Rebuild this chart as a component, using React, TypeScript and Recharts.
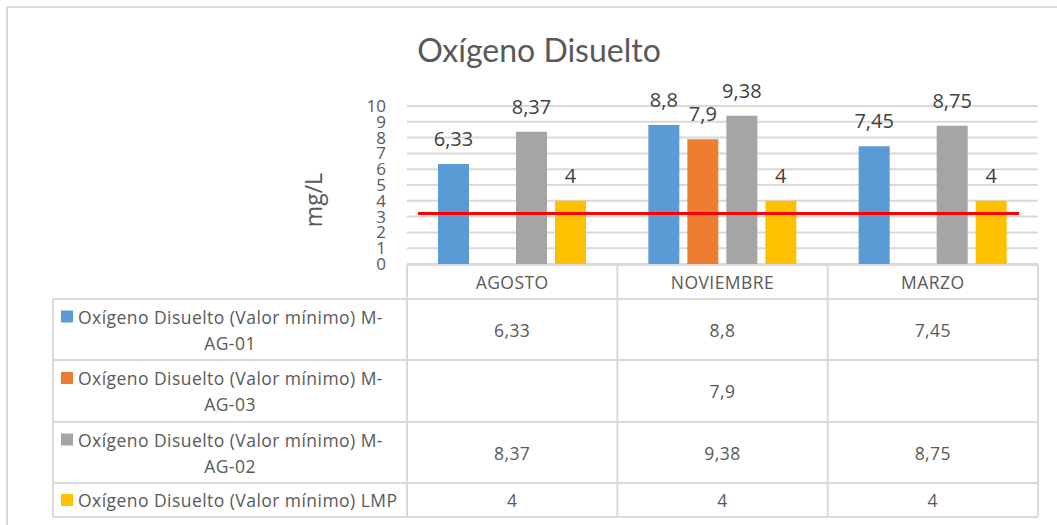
import { BarChart, Bar, XAxis, YAxis, CartesianGrid, LabelList, ReferenceLine } from "recharts";

const categories = ["AGOSTO", "NOVIEMBRE", "MARZO"];
const seriesNames = [
  "Oxígeno Disuelto (Valor mínimo) M-AG-01",
  "Oxígeno Disuelto (Valor mínimo) M-AG-03",
  "Oxígeno Disuelto (Valor mínimo) M-AG-02",
  "Oxígeno Disuelto (Valor mínimo) LMP",
];
const mag01 = [6.33, 8.8, 7.45];
const mag03 = [null, 7.9, null];
const mag02 = [8.37, 9.38, 8.75];
const lmp = [4, 4, 4];
const yTicks = [0, 1, 2, 3, 4, 5, 6, 7, 8, 9, 10];
const limitLine = 3.2;

const seriesValues = [mag01, mag03, mag02, lmp];
const seriesKeys = ["mag01", "mag03", "mag02", "lmp"];
const colors = ["#5B9BD5", "#ED7D31", "#A5A5A5", "#FFC000"];

const data = categories.map((c, i) => ({
  cat: c,
  mag01: mag01[i],
  mag03: mag03[i],
  mag02: mag02[i],
  lmp: lmp[i],
}));

const FONT = "'Open Sans', sans-serif";
const TITLE_FONT = "Lato, 'Open Sans', sans-serif";
const TEXT = "#595959";
const LINE = "#d9d9d9";

const fmt = (v: any) => (v === null || v === undefined ? "" : String(v).replace(".", ","));

// table layout
const colX = [407, 617.3, 827.7, 1038];
const leftX = 53;
const rowY = [265, 299, 360, 422, 483, 517];
const cellText = { fontSize: 17.5, fill: TEXT, letterSpacing: 0.45 };

function splitName(name: string) {
  const i = name.indexOf(") M-");
  if (i < 0) return [name];
  return [name.slice(0, i + 4), name.slice(i + 4)];
}

function DataTable() {
  return (
    <svg
      width={1057}
      height={525}
      style={{ position: "absolute", left: 0, top: 0, pointerEvents: "none" }}
      fontFamily={FONT}
    >
      {/* outer frame */}
      <line x1={7} y1={7} x2={1057} y2={7} stroke={LINE} strokeWidth={2} />
      <line x1={7} y1={7} x2={7} y2={525} stroke={LINE} strokeWidth={2} />

      <text x={539} y={62} textAnchor="middle" fontSize={32} fill={TEXT} fontFamily={TITLE_FONT}>
        Oxígeno Disuelto
      </text>
      <text
        x={313}
        y={200}
        textAnchor="middle"
        dominantBaseline="central"
        fontSize={23}
        fill={TEXT}
        transform="rotate(-90 313 200)"
      >
        mg/L
      </text>

      {/* grid of the table */}
      <line x1={colX[0]} y1={rowY[0]} x2={colX[3]} y2={rowY[0]} stroke={LINE} strokeWidth={2} />
      {rowY.slice(1).map((y) => (
        <line key={y} x1={leftX} y1={y} x2={colX[3]} y2={y} stroke={LINE} strokeWidth={2} />
      ))}
      <line x1={leftX} y1={rowY[1]} x2={leftX} y2={rowY[5]} stroke={LINE} strokeWidth={2} />
      {colX.map((x) => (
        <line key={x} x1={x} y1={rowY[0]} x2={x} y2={rowY[5]} stroke={LINE} strokeWidth={2} />
      ))}

      {categories.map((c, i) => (
        <text
          key={c}
          x={(colX[i] + colX[i + 1]) / 2}
          y={(rowY[0] + rowY[1]) / 2}
          textAnchor="middle"
          dominantBaseline="central"
          {...cellText}
        >
          {c}
        </text>
      ))}

      {seriesNames.map((name, r) => {
        const top = rowY[r + 1];
        const bottom = rowY[r + 2];
        const mid = (top + bottom) / 2;
        const lines = splitName(name);
        const firstY = lines.length > 1 ? mid - 13 : mid;
        return (
          <g key={name}>
            <rect x={61} y={firstY - 6} width={12} height={12} fill={colors[r]} />
            <text x={78} y={firstY} dominantBaseline="central" {...cellText}>
              {lines[0]}
            </text>
            {lines[1] && (
              <text
                x={(leftX + colX[0]) / 2}
                y={mid + 13}
                textAnchor="middle"
                dominantBaseline="central"
                {...cellText}
              >
                {lines[1]}
              </text>
            )}
            {seriesValues[r].map((v, i) => (
              <text
                key={i}
                x={(colX[i] + colX[i + 1]) / 2}
                y={mid}
                textAnchor="middle"
                dominantBaseline="central"
                {...cellText}
              >
                {fmt(v)}
              </text>
            ))}
          </g>
        );
      })}
    </svg>
  );
}

const redLine = (props: any) => (
  <line x1={props.x1 + 11} y1={props.y1} x2={props.x2 - 19} y2={props.y2} stroke="#FF0000" strokeWidth={3} />
);

export default function App() {
  return (
    <div style={{ position: "absolute", left: 0, top: 0, width: 1057, height: 525, background: "#fff", fontFamily: FONT }}>
      <BarChart
        width={1057}
        height={525}
        data={data}
        margin={{ top: 106, right: 19, bottom: 261, left: 367 }}
        barCategoryGap={31}
        barGap={8}
      >
        <CartesianGrid vertical={false} stroke={LINE} strokeWidth={2} />
        <XAxis dataKey="cat" hide />
        <YAxis
          width={40}
          domain={[0, 10]}
          ticks={yTicks}
          interval={0}
          axisLine={false}
          tickLine={false}
          tickMargin={15}
          tick={{ fontSize: 17, fill: TEXT, fontFamily: FONT }}
        />
        {seriesKeys.map((k, i) => (
          <Bar key={k} dataKey={k} fill={colors[i]} isAnimationActive={false}>
            <LabelList
              dataKey={k}
              position="top"
              offset={18}
              formatter={fmt}
              style={{ fontSize: 20, fill: "#404040", fontFamily: FONT }}
            />
          </Bar>
        ))}
        <ReferenceLine y={limitLine} shape={redLine} />
      </BarChart>
      <DataTable />
    </div>
  );
}
